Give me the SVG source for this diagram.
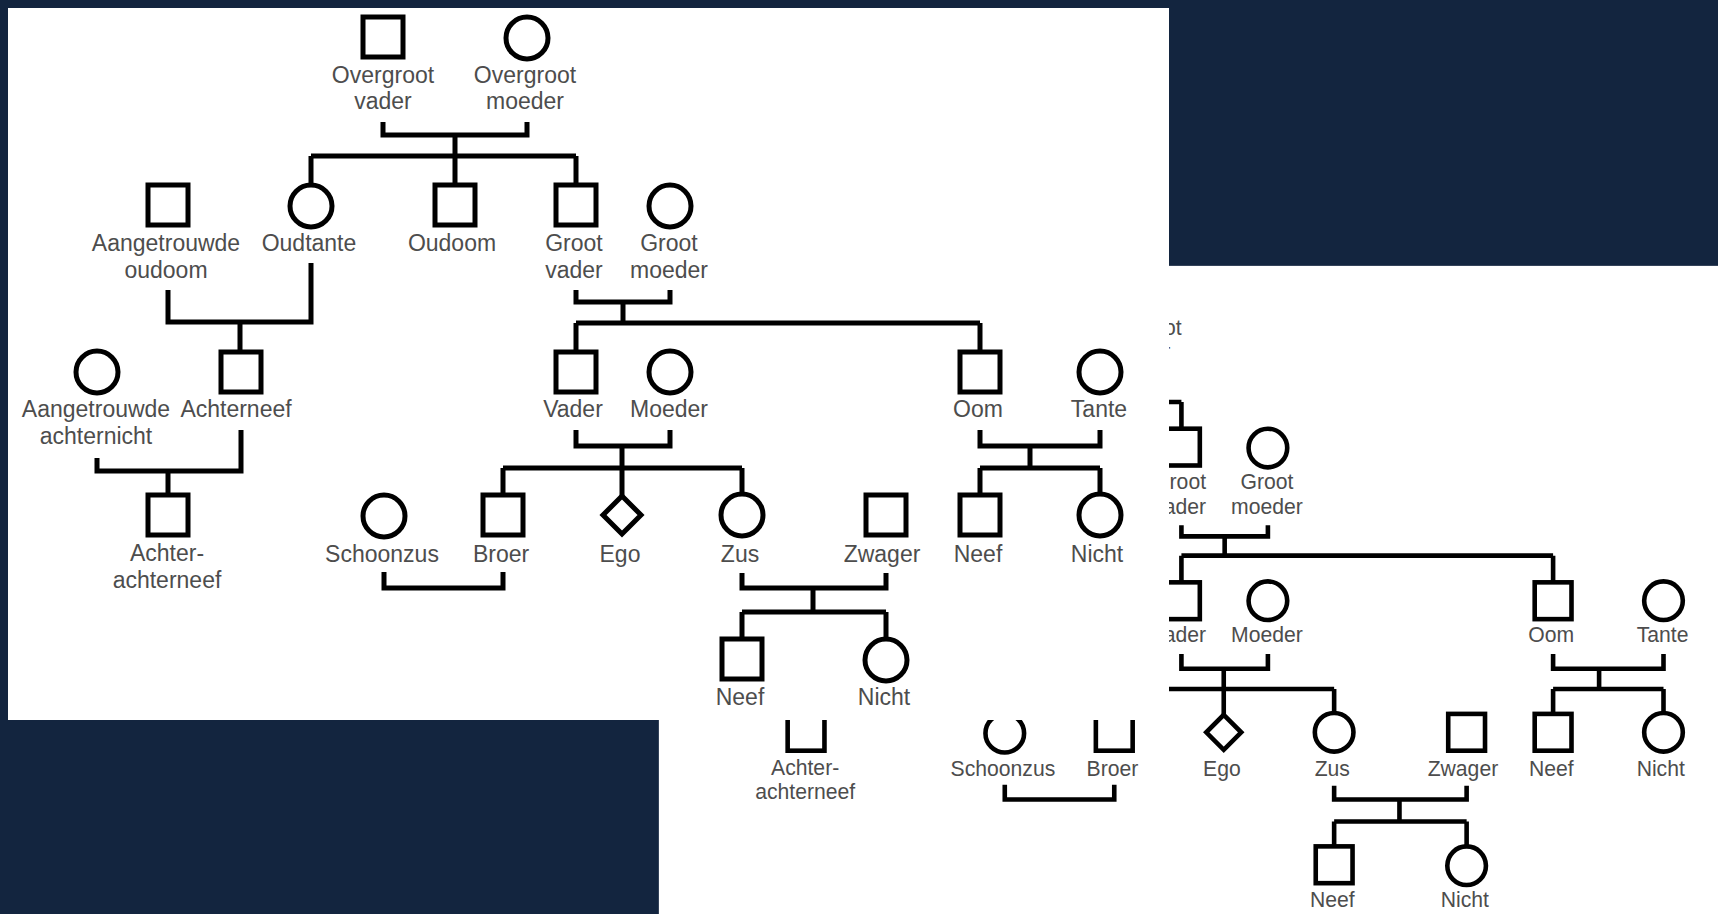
<svg xmlns="http://www.w3.org/2000/svg" xmlns:xlink="http://www.w3.org/1999/xlink" width="1718" height="914" viewBox="0 0 1718 914">
<style>
.bg{fill:#13253f}
.sheet{fill:#ffffff}
.sym{fill:none;stroke:#000;stroke-width:5}
.con path{fill:none;stroke:#000;stroke-width:5;stroke-linecap:butt;stroke-linejoin:miter}
text{font-family:"Liberation Sans",Arial,sans-serif;font-size:23px;fill:#4d4d4d;text-anchor:middle}
</style>
<defs>
<g id="chart">
<rect class="sheet" x="8" y="8" width="1161" height="712"/>
<g id="connectors" class="con">
<path d="M383 122V135H527V122M455 135V156M311 156H576M311 156V184M455 156V185M576 156V185"/>
<path d="M168 290V322H311V263M240 322V352"/>
<path d="M576 290V302H670V290M623 302V323M576 323H980M576 323V352M980 323V352"/>
<path d="M97 458V471H241V430M168 471V495"/>
<path d="M576 430V446H670V430M622 446V496M503 468H742M503 468V495M742 468V494"/>
<path d="M980 430V446H1100V430M1030 446V468M980 468H1100M980 468V495M1100 468V494"/>
<path d="M384 572V588H503V572"/>
<path d="M742 573V588H886V573M813 588V612M742 612H886M742 612V639M886 612V639"/>
</g>
<g id="n-overgrootvader"><rect class="sym" x="363" y="17" width="40" height="40"/><text x="383" y="83">Overgroot</text><text x="383" y="109">vader</text></g>
<g id="n-overgrootmoeder"><circle class="sym" cx="527" cy="38" r="21"/><text x="525" y="83">Overgroot</text><text x="525" y="109">moeder</text></g>
<g id="n-aangetrouwde-oudoom"><rect class="sym" x="148" y="185" width="40" height="40"/><text x="166" y="251">Aangetrouwde</text><text x="166" y="278">oudoom</text></g>
<g id="n-oudtante"><circle class="sym" cx="311" cy="206" r="21"/><text x="309" y="251">Oudtante</text></g>
<g id="n-oudoom"><rect class="sym" x="435" y="185" width="40" height="40"/><text x="452" y="251">Oudoom</text></g>
<g id="n-grootvader"><rect class="sym" x="556" y="185" width="40" height="40"/><text x="574" y="251">Groot</text><text x="574" y="278">vader</text></g>
<g id="n-grootmoeder"><circle class="sym" cx="670" cy="206" r="21"/><text x="669" y="251">Groot</text><text x="669" y="278">moeder</text></g>
<g id="n-aangetrouwde-achternicht"><circle class="sym" cx="97" cy="372" r="21"/><text x="96" y="417">Aangetrouwde</text><text x="96" y="444">achternicht</text></g>
<g id="n-achterneef"><rect class="sym" x="221" y="352" width="40" height="40"/><text x="236" y="417">Achterneef</text></g>
<g id="n-vader"><rect class="sym" x="556" y="352" width="40" height="40"/><text x="573" y="417">Vader</text></g>
<g id="n-moeder"><circle class="sym" cx="670" cy="372" r="21"/><text x="669" y="417">Moeder</text></g>
<g id="n-oom"><rect class="sym" x="960" y="352" width="40" height="40"/><text x="978" y="417">Oom</text></g>
<g id="n-tante"><circle class="sym" cx="1100" cy="372" r="21"/><text x="1099" y="417">Tante</text></g>
<g id="n-achter-achterneef"><rect class="sym" x="148" y="495" width="40" height="40"/><text x="167" y="561">Achter-</text><text x="167" y="588">achterneef</text></g>
<g id="n-schoonzus"><circle class="sym" cx="384" cy="516" r="21"/><text x="382" y="562">Schoonzus</text></g>
<g id="n-broer"><rect class="sym" x="483" y="495" width="40" height="40"/><text x="501" y="562">Broer</text></g>
<g id="n-ego"><path class="sym" d="M622 496L641 515L622 534L603 515Z"/><text x="620" y="562">Ego</text></g>
<g id="n-zus"><circle class="sym" cx="742" cy="515" r="21"/><text x="740" y="562">Zus</text></g>
<g id="n-zwager"><rect class="sym" x="866" y="495" width="40" height="40"/><text x="882" y="562">Zwager</text></g>
<g id="n-neef"><rect class="sym" x="960" y="495" width="40" height="40"/><text x="978" y="562">Neef</text></g>
<g id="n-nicht"><circle class="sym" cx="1100" cy="515" r="21"/><text x="1097" y="562">Nicht</text></g>
<g id="n-neef-2"><rect class="sym" x="722" y="639" width="40" height="40"/><text x="740" y="705">Neef</text></g>
<g id="n-nicht-2"><circle class="sym" cx="886" cy="660" r="21"/><text x="884" y="705">Nicht</text></g>
</g>
</defs>
<rect class="bg" x="0" y="0" width="1718" height="914"/>
<use id="copy-back" xlink:href="#chart" href="#chart" transform="translate(651.5 258.5) scale(0.92)"/>
<use id="copy-front" xlink:href="#chart" href="#chart"/>
</svg>
